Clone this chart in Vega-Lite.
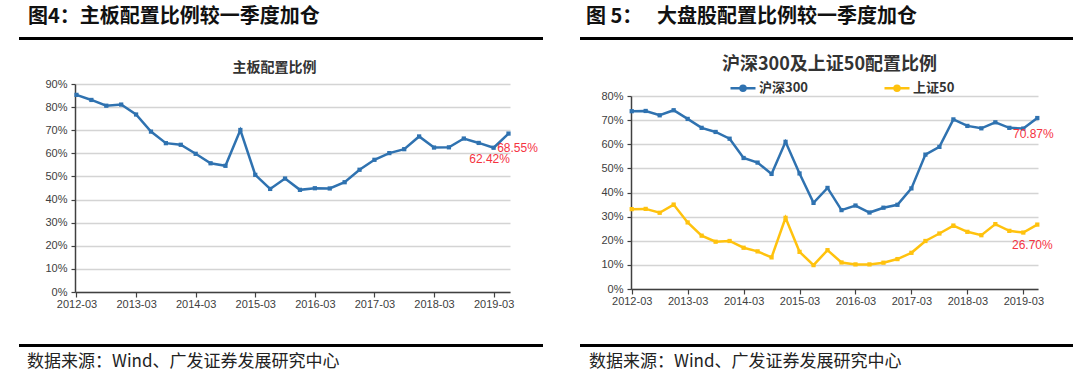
{
  "$schema": "https://vega.github.io/schema/vega-lite/v6.json",
  "padding": {"left": 16, "top": 6, "right": 0, "bottom": 0},
  "background": "white",
  "datasets": {
    "main": [
      {"date": "2012-03", "v": 0.853}, {"date": "2012-06", "v": 0.831}, {"date": "2012-09", "v": 0.806}, {"date": "2012-12", "v": 0.811},
      {"date": "2013-03", "v": 0.768}, {"date": "2013-06", "v": 0.694}, {"date": "2013-09", "v": 0.644}, {"date": "2013-12", "v": 0.637},
      {"date": "2014-03", "v": 0.598}, {"date": "2014-06", "v": 0.557}, {"date": "2014-09", "v": 0.546}, {"date": "2014-12", "v": 0.701},
      {"date": "2015-03", "v": 0.507}, {"date": "2015-06", "v": 0.446}, {"date": "2015-09", "v": 0.491}, {"date": "2015-12", "v": 0.442},
      {"date": "2016-03", "v": 0.449}, {"date": "2016-06", "v": 0.448}, {"date": "2016-09", "v": 0.475}, {"date": "2016-12", "v": 0.529},
      {"date": "2017-03", "v": 0.572}, {"date": "2017-06", "v": 0.601}, {"date": "2017-09", "v": 0.618}, {"date": "2017-12", "v": 0.673},
      {"date": "2018-03", "v": 0.625}, {"date": "2018-06", "v": 0.626}, {"date": "2018-09", "v": 0.664}, {"date": "2018-12", "v": 0.645},
      {"date": "2019-03", "v": 0.6242}, {"date": "2019-06", "v": 0.6855}
    ],
    "big": [
      {"date": "2012-03", "s": "沪深300", "v": 0.737}, {"date": "2012-06", "s": "沪深300", "v": 0.738}, {"date": "2012-09", "s": "沪深300", "v": 0.720}, {"date": "2012-12", "s": "沪深300", "v": 0.741},
      {"date": "2013-03", "s": "沪深300", "v": 0.705}, {"date": "2013-06", "s": "沪深300", "v": 0.668}, {"date": "2013-09", "s": "沪深300", "v": 0.651}, {"date": "2013-12", "s": "沪深300", "v": 0.623},
      {"date": "2014-03", "s": "沪深300", "v": 0.543}, {"date": "2014-06", "s": "沪深300", "v": 0.524}, {"date": "2014-09", "s": "沪深300", "v": 0.477}, {"date": "2014-12", "s": "沪深300", "v": 0.610},
      {"date": "2015-03", "s": "沪深300", "v": 0.479}, {"date": "2015-06", "s": "沪深300", "v": 0.357}, {"date": "2015-09", "s": "沪深300", "v": 0.419}, {"date": "2015-12", "s": "沪深300", "v": 0.327},
      {"date": "2016-03", "s": "沪深300", "v": 0.346}, {"date": "2016-06", "s": "沪深300", "v": 0.317}, {"date": "2016-09", "s": "沪深300", "v": 0.337}, {"date": "2016-12", "s": "沪深300", "v": 0.349},
      {"date": "2017-03", "s": "沪深300", "v": 0.417}, {"date": "2017-06", "s": "沪深300", "v": 0.557}, {"date": "2017-09", "s": "沪深300", "v": 0.589}, {"date": "2017-12", "s": "沪深300", "v": 0.703},
      {"date": "2018-03", "s": "沪深300", "v": 0.676}, {"date": "2018-06", "s": "沪深300", "v": 0.666}, {"date": "2018-09", "s": "沪深300", "v": 0.691}, {"date": "2018-12", "s": "沪深300", "v": 0.668},
      {"date": "2019-03", "s": "沪深300", "v": 0.665}, {"date": "2019-06", "s": "沪深300", "v": 0.7087},
      {"date": "2012-03", "s": "上证50", "v": 0.331}, {"date": "2012-06", "s": "上证50", "v": 0.332}, {"date": "2012-09", "s": "上证50", "v": 0.316}, {"date": "2012-12", "s": "上证50", "v": 0.350},
      {"date": "2013-03", "s": "上证50", "v": 0.276}, {"date": "2013-06", "s": "上证50", "v": 0.221}, {"date": "2013-09", "s": "上证50", "v": 0.196}, {"date": "2013-12", "s": "上证50", "v": 0.199},
      {"date": "2014-03", "s": "上证50", "v": 0.171}, {"date": "2014-06", "s": "上证50", "v": 0.156}, {"date": "2014-09", "s": "上证50", "v": 0.131}, {"date": "2014-12", "s": "上证50", "v": 0.295},
      {"date": "2015-03", "s": "上证50", "v": 0.154}, {"date": "2015-06", "s": "上证50", "v": 0.099}, {"date": "2015-09", "s": "上证50", "v": 0.161}, {"date": "2015-12", "s": "上证50", "v": 0.110},
      {"date": "2016-03", "s": "上证50", "v": 0.102}, {"date": "2016-06", "s": "上证50", "v": 0.102}, {"date": "2016-09", "s": "上证50", "v": 0.109}, {"date": "2016-12", "s": "上证50", "v": 0.124},
      {"date": "2017-03", "s": "上证50", "v": 0.150}, {"date": "2017-06", "s": "上证50", "v": 0.199}, {"date": "2017-09", "s": "上证50", "v": 0.230}, {"date": "2017-12", "s": "上证50", "v": 0.263},
      {"date": "2018-03", "s": "上证50", "v": 0.237}, {"date": "2018-06", "s": "上证50", "v": 0.223}, {"date": "2018-09", "s": "上证50", "v": 0.269}, {"date": "2018-12", "s": "上证50", "v": 0.241},
      {"date": "2019-03", "s": "上证50", "v": 0.234}, {"date": "2019-06", "s": "上证50", "v": 0.2670}
    ]
  },
  "bounds": "full",
  "spacing": 0,
  "resolve": {"scale": {"color": "independent"}, "legend": {"color": "independent"}},
  "vconcat": [
    {
      "hconcat": [
        {
          "width": 524, "height": 3,
          "view": {"fill": "#000000", "stroke": null},
          "title": {"text": "图4：主板配置比例较一季度加仓", "anchor": "start", "dx": 9, "offset": 9, "fontSize": 20, "font": "Noto Sans CJK SC", "fontWeight": "bold", "color": "#111111"},
          "data": {"values": [{}]},
          "mark": {"type": "point", "opacity": 0},
          "encoding": {}
        },
        {
          "width": 493, "height": 3,
          "view": {"fill": "#000000", "stroke": null},
          "title": {"text": "图 5：　 大盘股配置比例较一季度加仓", "anchor": "start", "dx": 6, "offset": 9, "fontSize": 20, "font": "Noto Sans CJK SC", "fontWeight": "bold", "color": "#111111"},
          "data": {"values": [{}]},
          "mark": {"type": "point", "opacity": 0},
          "encoding": {}
        }
      ],
      "spacing": 37,
      "bounds": "flush"
    },
    {
      "width": 1, "height": 13.5,
      "data": {"values": [{}]},
      "mark": {"type": "point", "opacity": 0},
      "encoding": {}
    },
    {
      "resolve": {"scale": {"color": "independent"}, "legend": {"color": "independent"}},
      "hconcat": [
        {
          "width": 56, "height": 1,
          "data": {"values": [{}]},
          "mark": {"type": "point", "opacity": 0},
          "encoding": {}
        },
        {
          "width": 435, "height": 208,
          "title": {"text": "主板配置比例", "fontSize": 14, "font": "Noto Sans CJK SC", "fontWeight": "bold", "color": "#333333", "offset": 3, "dx": -18},
          "data": {"name": "main"},
          "encoding": {
            "x": {"field": "date", "type": "ordinal", "scale": {"type": "point", "padding": 0.1},
                  "axis": {"values": ["2012-03", "2013-03", "2014-03", "2015-03", "2016-03", "2017-03", "2018-03", "2019-03"], "labelAngle": 0, "grid": false, "title": null, "tickSize": 5, "labelPadding": 1}},
            "y": {"field": "v", "type": "quantitative", "scale": {"domain": [0, 0.9]},
                  "axis": {"values": [0, 0.1, 0.2, 0.3, 0.4, 0.5, 0.6, 0.7, 0.8, 0.9], "format": ".0%", "title": null, "grid": true, "tickSize": 4, "labelPadding": 4}}
          },
          "layer": [
            {"mark": {"type": "line", "color": "#2f72b0", "strokeWidth": 2.5}},
            {"mark": {"type": "point", "shape": "square", "filled": true, "size": 18, "color": "#2f72b0", "opacity": 1}},
            {"transform": [{"filter": "datum.date == '2019-06'"}],
             "mark": {"type": "text", "color": "#f5333f", "fontSize": 12, "font": "Liberation Sans", "dx": 9, "dy": 14},
             "encoding": {"text": {"field": "v", "format": ".2%"}}},
            {"transform": [{"filter": "datum.date == '2019-03'"}],
             "mark": {"type": "text", "color": "#f5333f", "fontSize": 12, "font": "Liberation Sans", "dx": -4, "dy": 11},
             "encoding": {"text": {"field": "v", "format": ".2%"}}}
          ]
        },
        {
          "width": 121, "height": 1,
          "data": {"values": [{}]},
          "mark": {"type": "point", "opacity": 0},
          "encoding": {}
        },
        {
          "width": 407, "height": 208,
          "title": {"text": "沪深300及上证50配置比例", "fontSize": 18, "font": "Noto Sans CJK SC", "fontWeight": "bold", "color": "#333333", "offset": 0, "dx": -5},
          "data": {"name": "big"},
          "encoding": {
            "x": {"field": "date", "type": "ordinal", "scale": {"type": "point", "padding": 0.05},
                  "axis": {"values": ["2012-03", "2013-03", "2014-03", "2015-03", "2016-03", "2017-03", "2018-03", "2019-03"], "labelAngle": 0, "grid": false, "title": null, "tickSize": 5, "labelPadding": 1, "offset": -3}},
            "y": {"field": "v", "type": "quantitative", "scale": {"domain": [0, 0.8], "range": [205, 12]},
                  "axis": {"values": [0, 0.1, 0.2, 0.3, 0.4, 0.5, 0.6, 0.7, 0.8], "format": ".0%", "title": null, "grid": true, "tickSize": 4, "labelPadding": 4}},
            "color": {"field": "s", "type": "nominal", "scale": {"domain": ["沪深300", "上证50"], "range": ["#2f72b0", "#ffc20e"]},
                      "legend": {"orient": "none", "legendX": 98, "legendY": -10, "direction": "horizontal", "title": null,
                                 "symbolType": "M-1,0L1,0M0.2,0A0.2,0.2,0,1,1,-0.2,0A0.2,0.2,0,1,1,0.2,0Z",
                                 "symbolSize": 625, "symbolStrokeWidth": 2.5, "labelFont": "Noto Sans CJK SC", "labelFontSize": 13, "labelFontWeight": "bold", "labelColor": "#333333", "labelOffset": 2, "columnPadding": 70}}
          },
          "layer": [
            {"mark": {"type": "line", "strokeWidth": 2.5}},
            {"mark": {"type": "point", "shape": "square", "filled": true, "size": 18, "opacity": 1}},
            {"transform": [{"filter": "datum.date == '2019-06' && datum.s == '沪深300'"}],
             "mark": {"type": "text", "color": "#f5333f", "fontSize": 12, "font": "Liberation Sans", "dx": -4, "dy": 16},
             "encoding": {"text": {"field": "v", "format": ".2%"}, "color": {"value": "#f5333f"}}},
            {"transform": [{"filter": "datum.date == '2019-06' && datum.s == '上证50'"}],
             "mark": {"type": "text", "color": "#f5333f", "fontSize": 12, "font": "Liberation Sans", "dx": -5, "dy": 20},
             "encoding": {"text": {"field": "v", "format": ".2%"}, "color": {"value": "#f5333f"}}}
          ]
        }
      ],
      "spacing": 0,
      "bounds": "flush"
    },
    {
      "width": 1, "height": 32.5,
      "data": {"values": [{}]},
      "mark": {"type": "point", "opacity": 0},
      "encoding": {}
    },
    {
      "hconcat": [
        {
          "width": 524, "height": 3,
          "view": {"fill": "#000000", "stroke": null},
          "title": {"text": "数据来源：Wind、广发证券发展研究中心", "orient": "bottom", "anchor": "start", "dx": 8, "offset": 6, "fontSize": 17, "font": "Noto Sans CJK SC", "fontWeight": "normal", "color": "#222222"},
          "data": {"values": [{}]},
          "mark": {"type": "point", "opacity": 0},
          "encoding": {}
        },
        {
          "width": 493, "height": 3,
          "view": {"fill": "#000000", "stroke": null},
          "title": {"text": "数据来源：Wind、广发证券发展研究中心", "orient": "bottom", "anchor": "start", "dx": 9, "offset": 6, "fontSize": 17, "font": "Noto Sans CJK SC", "fontWeight": "normal", "color": "#222222"},
          "data": {"values": [{}]},
          "mark": {"type": "point", "opacity": 0},
          "encoding": {}
        }
      ],
      "spacing": 37,
      "bounds": "flush"
    }
  ],
  "config": {
    "view": {"stroke": null},
    "font": "Liberation Sans",
    "axis": {
      "domainColor": "#404040", "domainWidth": 1.5, "tickColor": "#404040", "tickWidth": 1.2,
      "labelFont": "Liberation Sans", "labelFontSize": 11, "labelColor": "#404040",
      "gridColor": "#d4d4d4", "gridWidth": 1.5
    }
  }
}
